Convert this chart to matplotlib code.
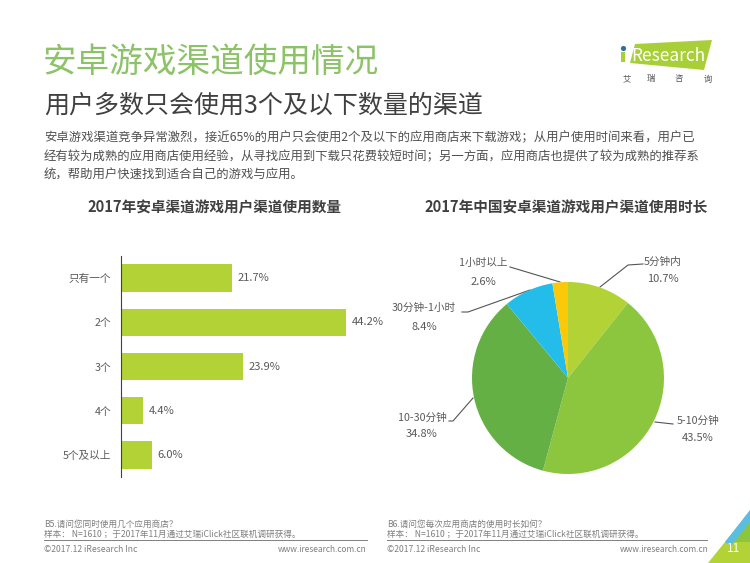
#!/usr/bin/env python3
import matplotlib
matplotlib.use("Agg")
import matplotlib.pyplot as plt
from matplotlib.patches import Polygon

plt.rcParams['font.family'] = ['Noto Sans CJK SC', 'DejaVu Sans']

# 数据
bar_labels = ['只有一个', '2个', '3个', '4个', '5个及以上']
bar_values = [21.7, 44.2, 23.9, 4.4, 6.0]
pie_labels = ['5分钟内', '5-10分钟', '10-30分钟', '30分钟-1小时', '1小时以上']
pie_values = [10.7, 43.5, 34.8, 8.4, 2.6]
pie_colors = ['#b2d235', '#8cc63f', '#65b045', '#24bdea', '#fcc80a']

title = '安卓游戏渠道使用情况'
subtitle = '用户多数只会使用3个及以下数量的渠道'
body = ['安卓游戏渠道竞争异常激烈，接近65%的用户只会使用2个及以下的应用商店来下载游戏；从用户使用时间来看，用户已',
        '经有较为成熟的应用商店使用经验，从寻找应用到下载只花费较短时间；另一方面，应用商店也提供了较为成熟的推荐系',
        '统，帮助用户快速找到适合自己的游戏与应用。']

GREY = '#595959'
FOOT = '#7f7f7f'
W, H = 750, 563

fig = plt.figure(figsize=(7.5, 5.63), dpi=100)

# 整页背景层，用像素坐标摆放文字
page = fig.add_axes([0, 0, 1, 1])
page.set_xlim(0, W)
page.set_ylim(H, 0)
page.axis('off')

def px_axes(x0, y0, x1, y1):
    return fig.add_axes([x0 / W, 1 - y1 / H, (x1 - x0) / W, (y1 - y0) / H])

def txt(x, y, s, size=7.7, color=GREY, ha='left', **kw):
    page.text(x, y, s, fontsize=size, color=color, ha=ha, va='center', **kw)

txt(43, 62, title, size=24.2, color='#8cc268')
txt(44, 106, subtitle, size=18, color='#404040')
for i, line in enumerate(body):
    txt(44, 138 + i * 18.7, line, size=8.9, color='#505050')

txt(214.5, 207, '2017年安卓渠道游戏用户渠道使用数量', size=10.55, color='#404040', ha='center', fontweight='bold')
txt(566, 207, '2017年中国安卓渠道游戏用户渠道使用时长', size=10.55, color='#404040', ha='center', fontweight='bold')

# 条形图
ax = px_axes(121, 256, 394, 477)
ypos = list(range(len(bar_values)))
ax.barh(ypos, bar_values, height=0.62, color=pie_colors[0])
ax.set_xlim(0, 273 / 5.1)
ax.set_ylim(4.5, -0.5)
ax.set_yticks(ypos)
ax.set_yticklabels(bar_labels, fontsize=7.7, color=GREY)
ax.set_xticks([])
ax.tick_params(axis='y', length=0, pad=7)
for s in ['top', 'right', 'bottom']:
    ax.spines[s].set_visible(False)
ax.spines['left'].set_color('#404040')
ax.spines['left'].set_linewidth(0.8)
ax.patch.set_alpha(0)
for y, v in zip(ypos, bar_values):
    ax.text(v + 1.1, y, '%.1f%%' % v, fontsize=8, color=GREY, va='center')

# 饼图
ax2 = px_axes(472, 282, 664, 474)
ax2.pie(pie_values, colors=pie_colors, startangle=90, counterclock=False, radius=1,
        wedgeprops={'linewidth': 0})
ax2.set_xlim(-1, 1)
ax2.set_ylim(-1, 1)

# 饼图标注
label_pos = [(663, 262, 279), (698, 421, 438), (422, 418, 434),
             (424, 308, 327), (483, 263, 282)]
for name, v, p in zip(pie_labels, pie_values, label_pos):
    txt(p[0], p[1], name, ha='center')
    txt(p[0], p[2], '%.1f%%' % v, size=8, ha='center')
leaders = [([643, 628, 600], [264, 265, 287]),
           ([673, 655], [424, 422]),
           ([449, 453, 473], [421, 421, 398]),
           ([462, 468, 530], [312, 312, 290]),
           ([510, 560], [267, 282])]
for lx, ly in leaders:
    page.plot(lx, ly, color='#555555', lw=0.8)

# 页脚
txt(44, 524, 'B5.请问您同时使用几个应用商店？', size=6.2, color=FOOT)
txt(44, 534, '样本： N=1610 ；于2017年11月通过艾瑞iClick社区联机调研获得。', size=6.2, color=FOOT)
txt(387, 524, 'B6.请问您每次应用商店的使用时长如何？', size=6.2, color=FOOT)
txt(387, 534, '样本： N=1610 ；于2017年11月通过艾瑞iClick社区联机调研获得。', size=6.2, color=FOOT)
page.plot([44, 367], [540, 540], color='#808080', lw=0.7)
page.plot([387, 707], [540, 540], color='#808080', lw=0.7)
txt(44, 549, '©2017.12 iResearch Inc', size=6.2, color=FOOT)
txt(367, 549, 'www.iresearch.com.cn', size=6, color=FOOT, ha='right')
txt(387, 549, '©2017.12 iResearch Inc', size=6.2, color=FOOT)
txt(709, 549, 'www.iresearch.com.cn', size=6, color=FOOT, ha='right')

# 右下角色块和页码
page.add_patch(Polygon([[708, 563], [725, 542], [750, 542], [750, 563]], color='#b2d235', lw=0))
page.add_patch(Polygon([[725, 542], [750, 512], [750, 542]], color='#8cc63f', lw=0))
page.add_patch(Polygon([[725, 542], [750, 510], [750, 522], [731, 546]], color='#5bbde0', lw=0))
txt(734, 549, '11', size=8.5, color='white', ha='center')

# logo
page.add_patch(Polygon([[635, 44], [712, 40], [704, 70], [630, 63]], color='#a9cf38', lw=0))
page.add_patch(Polygon([[621, 52], [625, 52], [625, 62], [621, 62]], color='#a9cf38', lw=0))
page.scatter([623], [48], s=14, color='#2f6f9f', lw=0)
txt(631, 56, 'Research', size=12.5, color='white')
for x, c in zip([627, 651, 679, 708], '艾瑞咨询'):
    txt(x, 79, c, size=6, color='#555555', ha='center')

fig.savefig('out.png', dpi=100)
